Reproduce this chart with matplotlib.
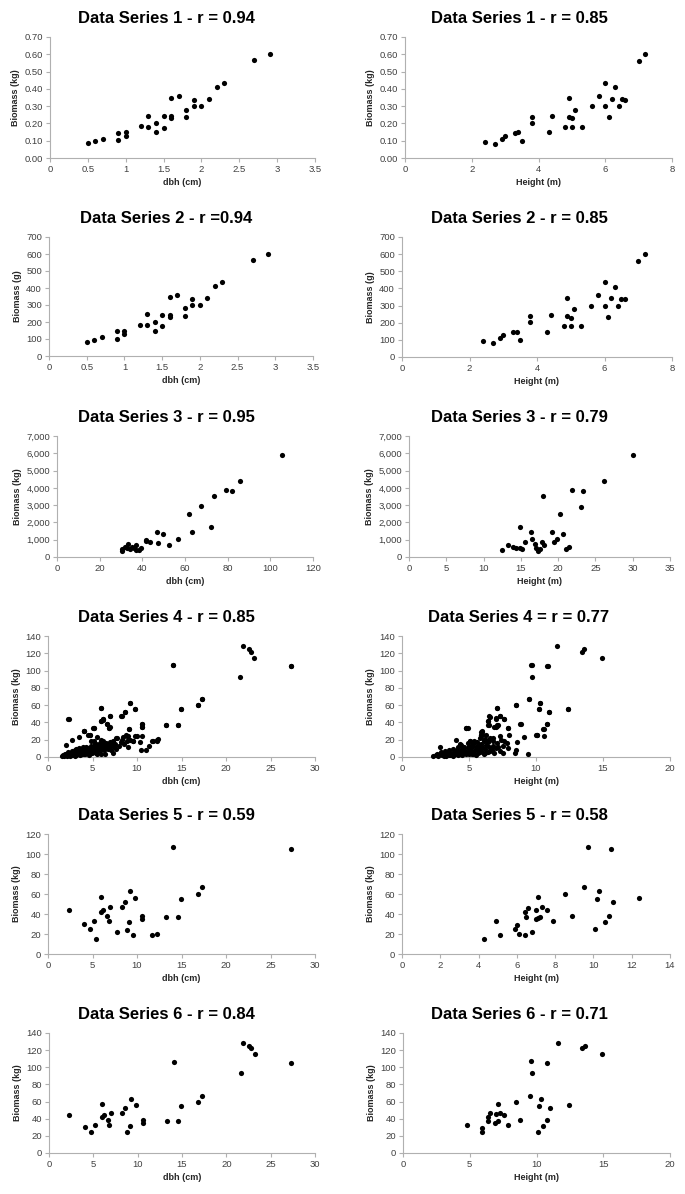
import matplotlib
matplotlib.use('Agg')
import matplotlib.pyplot as plt
from matplotlib.ticker import FuncFormatter, MultipleLocator

plt.rcParams['font.family'] = ['Liberation Sans', 'DejaVu Sans']

# ---- data ----
# Series 1 (kg)
s1_dbh = [0.5, 0.6, 0.7, 0.9, 0.9, 1.0, 1.0, 1.2, 1.3, 1.3, 1.4, 1.4, 1.5, 1.5, 1.6, 1.6,
          1.6, 1.7, 1.8, 1.8, 1.9, 1.9, 2.0, 2.1, 2.2, 2.3, 2.7, 2.9]
s1_dbh_bio = [0.085, 0.097, 0.11, 0.145, 0.105, 0.15, 0.13, 0.185, 0.245, 0.18, 0.205, 0.15,
              0.245, 0.175, 0.345, 0.245, 0.23, 0.36, 0.28, 0.235, 0.335, 0.30, 0.30, 0.34,
              0.41, 0.435, 0.565, 0.60]
s1_ht = [2.4, 2.7, 2.9, 3.0, 3.3, 3.4, 3.5, 3.8, 3.8, 4.3, 4.4, 4.8, 4.9, 4.9, 5.0, 5.0, 5.1,
         5.3, 5.6, 5.8, 6.0, 6.0, 6.1, 6.2, 6.3, 6.4, 6.5, 6.6, 7.0, 7.2]
s1_ht_bio = [0.095, 0.083, 0.11, 0.13, 0.145, 0.15, 0.10, 0.24, 0.20, 0.15, 0.245, 0.18, 0.345,
             0.24, 0.23, 0.18, 0.28, 0.18, 0.30, 0.36, 0.435, 0.30, 0.235, 0.34, 0.41, 0.30,
             0.34, 0.335, 0.56, 0.60]

# Series 2 (g)
s2_dbh = [0.5, 0.6, 0.7, 0.9, 0.9, 1.0, 1.0, 1.2, 1.3, 1.3, 1.4, 1.4, 1.5, 1.5, 1.6, 1.6,
          1.6, 1.7, 1.8, 1.8, 1.9, 1.9, 2.0, 2.1, 2.2, 2.3, 2.7, 2.9]
s2_dbh_bio = [85, 97, 110, 145, 100, 150, 130, 183, 245, 180, 202, 148, 243, 177, 345, 243,
              228, 360, 280, 235, 337, 298, 300, 340, 410, 435, 563, 600]
s2_ht = [2.4, 2.7, 2.9, 3.0, 3.3, 3.4, 3.5, 3.8, 3.8, 4.3, 4.4, 4.8, 4.9, 4.9, 5.0, 5.0, 5.1,
         5.3, 5.6, 5.8, 6.0, 6.0, 6.1, 6.2, 6.3, 6.4, 6.5, 6.6, 7.0, 7.2]
s2_ht_bio = [95, 83, 110, 130, 145, 148, 100, 242, 202, 148, 245, 178, 345, 242, 230, 182,
             280, 180, 300, 360, 435, 300, 235, 342, 410, 300, 340, 338, 562, 600]

# Series 3 (kg)
s3_dbh = [30.5, 30.5, 32, 33, 33.5, 34, 35, 36, 37, 37, 38.5, 39.5, 41.5, 41.5, 43.5, 47,
          47.5, 49.5, 52.5, 56.5, 62, 63.5, 67.5, 72, 73.5, 79, 82, 86, 105.5]
s3_dbh_bio = [350, 480, 600, 500, 750, 480, 550, 500, 700, 380, 430, 500, 1000, 900, 850,
              1450, 830, 1350, 680, 1020, 2480, 1430, 2950, 1720, 3520, 3850, 3800, 4400, 5920]
s3_ht = [12.5, 13.3, 14.0, 14.3, 14.9, 14.9, 15.2, 15.6, 16.3, 16.5, 16.9, 17.0, 17.3, 17.5,
         17.9, 18.0, 18.1, 19.2, 19.5, 19.9, 20.2, 20.7, 21.0, 21.5, 21.9, 23.0, 23.3, 26.2, 30.0]
s3_ht_bio = [380, 700, 550, 520, 1720, 520, 450, 870, 1420, 1020, 750, 500, 350, 450, 850,
             3520, 700, 1470, 850, 1020, 2470, 1350, 480, 600, 3850, 2920, 3800, 4400, 5920]

# Series 6 (kg)
s6_dbh = [2.3, 4.1, 4.7, 5.2, 6.0, 6.0, 6.2, 6.6, 6.8, 7.0, 8.2, 8.6, 8.8, 9.1, 9.2, 9.8,
          10.6, 10.6, 13.3, 14.1, 14.6, 14.9, 16.8, 17.3, 21.6, 21.9, 22.6, 22.8, 23.2, 27.3]
s6_dbh_bio = [44, 30, 25, 33, 57, 42, 44, 38, 33, 47, 47, 52, 25, 32, 63, 56, 38, 35, 37, 106,
              37, 55, 60, 67, 93, 128, 125, 122, 115, 105]
s6_ht = [4.8, 5.9, 5.9, 6.4, 6.4, 6.5, 6.9, 7.0, 7.1, 7.1, 7.3, 7.6, 7.9, 8.5, 8.8, 9.5, 9.6,
         9.7, 10.1, 10.2, 10.3, 10.5, 10.8, 10.8, 11.0, 11.6, 12.4, 13.4, 13.6, 14.9]
s6_ht_bio = [33, 25, 29, 37, 42, 47, 35, 45, 57, 37, 47, 44, 33, 60, 38, 67, 107, 93, 25, 55,
             63, 32, 38, 105, 52, 128, 56, 122, 125, 115]

# Series 5 (kg)
s5_dbh = [2.4, 4.1, 4.7, 5.2, 5.4, 6.0, 6.0, 6.2, 6.6, 6.8, 7.0, 7.7, 8.3, 8.6, 8.9, 9.1,
          9.2, 9.5, 9.8, 10.6, 10.6, 11.7, 12.3, 13.3, 14.1, 14.6, 14.9, 16.8, 17.3, 27.3]
s5_dbh_bio = [44, 30, 25, 33, 15, 57, 42, 44, 38, 33, 47, 22, 47, 52, 24, 32, 63, 19, 56, 38,
              35, 19, 20, 37, 107, 37, 55, 60, 67, 105]
s5_ht = [4.3, 4.9, 5.1, 5.9, 6.0, 6.1, 6.4, 6.4, 6.5, 6.6, 6.8, 7.0, 7.0, 7.1, 7.1, 7.2, 7.3,
         7.6, 7.9, 8.5, 8.9, 9.5, 9.7, 10.1, 10.2, 10.3, 10.6, 10.8, 10.9, 11.0, 12.4]
s5_ht_bio = [15, 33, 19, 25, 29, 20, 19, 42, 37, 46, 22, 44, 35, 57, 36, 37, 47, 44, 33, 60,
             38, 67, 107, 25, 55, 63, 32, 38, 105, 52, 56]

# Series 4 (kg) - the dense cloud of small trees (drawn together with series 5 and 6 points)
s4_dbh = [1.6, 1.7, 1.8, 1.9, 2.0, 2.0, 2.1, 2.2, 2.2, 2.3, 2.4, 2.5, 2.5, 2.6, 2.7, 2.7, 2.8,
          2.9, 3.0, 3.0, 3.1, 3.2, 3.2, 3.3, 3.4, 3.5, 3.5, 3.6, 3.7, 3.8, 3.8, 3.9, 4.0, 4.0,
          4.1, 4.2, 4.3, 4.3, 4.4, 4.5, 4.5, 4.6, 4.7, 4.8, 4.8, 4.9, 5.0, 5.0, 5.1, 5.2, 5.3,
          5.3, 5.4, 5.5, 5.5, 5.6, 5.7, 5.8, 5.8, 5.9, 6.0, 6.1, 6.2, 6.2, 6.3, 6.4, 6.5, 6.5,
          6.6, 6.7, 6.8, 6.9, 7.0, 7.0, 7.1, 7.2, 7.3, 7.3, 7.4, 7.5, 7.6, 7.6, 8.0, 8.2, 8.3,
          8.4, 8.5, 8.9, 9.0, 9.0, 9.2, 9.6, 9.8, 10.0, 10.3, 10.5, 10.6, 11.0, 11.4, 11.8,
          12.2, 12.4, 2.0, 2.7, 3.5, 4.0, 4.5, 5.0, 5.5, 5.2, 6.2, 4.8, 6.0, 7.0, 2.4, 3.0,
          3.6, 4.2, 4.6, 5.4, 5.9, 6.4]
s4_dbh_bio = [1, 2, 1, 3, 2, 4, 1, 3, 6, 2, 4, 1, 5, 3, 7, 2, 4, 6, 3, 8, 5, 2, 9, 4, 6, 3,
              10, 7, 5, 8, 3, 11, 6, 4, 9, 7, 12, 5, 8, 6, 10, 4, 9, 7, 13, 5, 10, 8, 12, 6,
              9, 15, 11, 7, 4, 13, 10, 8, 16, 12, 9, 14, 11, 18, 8, 13, 10, 16, 12, 9, 15, 11,
              17, 13, 8, 14, 18, 5, 11, 15, 22, 9, 13, 17, 20, 23, 15, 18, 12, 24, 20, 19, 24,
              24, 17, 8, 24, 8, 13, 19, 19, 21, 14, 20, 23, 30, 25, 33, 23, 18, 43, 18, 20, 35,
              2, 1, 2, 3, 2, 5, 3, 4]
s4_ht = [2.3, 2.5, 2.6, 2.7, 2.8, 2.8, 2.9, 3.0, 3.0, 3.1, 3.2, 3.3, 3.3, 3.4, 3.5, 3.5, 3.6,
         3.7, 3.8, 3.8, 3.9, 4.0, 4.0, 4.1, 4.2, 4.2, 4.3, 4.4, 4.4, 4.5, 4.6, 4.6, 4.7, 4.8,
         4.8, 4.9, 4.9, 5.0, 5.0, 5.1, 5.1, 5.2, 5.2, 5.3, 5.4, 5.4, 5.5, 5.5, 5.6, 5.6, 5.7,
         5.7, 5.8, 5.8, 5.9, 5.9, 6.0, 6.0, 6.0, 6.1, 6.1, 6.2, 6.2, 6.3, 6.3, 6.4, 6.4, 6.5,
         6.6, 6.7, 6.8, 6.8, 6.9, 7.0, 7.1, 7.2, 7.3, 7.3, 7.4, 7.5, 7.5, 7.6, 7.8, 7.9, 8.0,
         8.4, 8.5, 8.6, 9.1, 9.4, 10.0, 10.6, 3.1, 3.6, 4.1, 4.5, 5.0, 5.3, 5.8, 6.2, 6.6]
s4_ht_bio = [1, 2, 4, 1, 3, 12, 6, 2, 5, 3, 7, 1, 4, 6, 2, 8, 5, 3, 9, 1, 6, 4, 20, 8, 2, 11,
             6, 14, 3, 9, 5, 12, 7, 3, 33, 10, 16, 6, 13, 19, 8, 4, 11, 15, 7, 18, 2, 12, 9,
             17, 5, 14, 10, 22, 7, 15, 12, 25, 30, 4, 18, 9, 21, 14, 26, 6, 17, 11, 22, 8, 13,
             19, 5, 10, 16, 12, 24, 7, 20, 13, 5, 18, 16, 10, 25, 5, 8, 17, 23, 4, 25, 24, 1,
             2, 3, 2, 4, 3, 6, 5, 7]

# ---- panels ----
panels = [
    ('Data Series 1 - r = 0.94', [(s1_dbh, s1_dbh_bio)], 'dbh (cm)', 'Biomass (kg)', 3.5, 0.5, 0.7, 0.1, '{:.2f}'),
    ('Data Series 1 - r = 0.85', [(s1_ht, s1_ht_bio)], 'Height (m)', 'Biomass (kg)', 8, 2, 0.7, 0.1, '{:.2f}'),
    ('Data Series 2 - r =0.94', [(s2_dbh, s2_dbh_bio)], 'dbh (cm)', 'Biomass (g)', 3.5, 0.5, 700, 100, '{:.0f}'),
    ('Data Series 2 - r = 0.85', [(s2_ht, s2_ht_bio)], 'Height (m)', 'Biomass (g)', 8, 2, 700, 100, '{:.0f}'),
    ('Data Series 3 - r = 0.95', [(s3_dbh, s3_dbh_bio)], 'dbh (cm)', 'Biomass (kg)', 120, 20, 7000, 1000, '{:,.0f}'),
    ('Data Series 3 - r = 0.79', [(s3_ht, s3_ht_bio)], 'Height (m)', 'Biomass (kg)', 35, 5, 7000, 1000, '{:,.0f}'),
    ('Data Series 4 - r = 0.85', [(s4_dbh, s4_dbh_bio), (s5_dbh, s5_dbh_bio), (s6_dbh, s6_dbh_bio)],
     'dbh (cm)', 'Biomass (kg)', 30, 5, 140, 20, '{:.0f}'),
    ('Data Series 4 = r = 0.77', [(s4_ht, s4_ht_bio), (s5_ht, s5_ht_bio), (s6_ht, s6_ht_bio)],
     'Height (m)', 'Biomass (kg)', 20, 5, 140, 20, '{:.0f}'),
    ('Data Series 5 - r = 0.59', [(s5_dbh, s5_dbh_bio)], 'dbh (cm)', 'Biomass (kg)', 30, 5, 120, 20, '{:.0f}'),
    ('Data Series 5 - r = 0.58', [(s5_ht, s5_ht_bio)], 'Height (m)', 'Biomass (kg)', 14, 2, 120, 20, '{:.0f}'),
    ('Data Series 6 - r = 0.84', [(s6_dbh, s6_dbh_bio)], 'dbh (cm)', 'Biomass (kg)', 30, 5, 140, 20, '{:.0f}'),
    ('Data Series 6 - r = 0.71', [(s6_ht, s6_ht_bio)], 'Height (m)', 'Biomass (kg)', 20, 5, 140, 20, '{:.0f}'),
]

# plot-area boxes in pixels: left, right, top, bottom
boxes = [
    (50, 315, 37, 158), (405, 672, 37, 158),
    (49, 313, 237, 356), (402, 672, 237, 357),
    (57, 313, 436, 557), (409, 670, 436, 557),
    (48, 315, 636, 757), (402, 670, 636, 757),
    (48, 315, 834, 954), (402, 670, 834, 954),
    (49, 315, 1033, 1153), (403, 670, 1033, 1153),
]
# titles are centred on the chart area (Excel style), not on the plot area
title_x = [166, 519]

W, H = 685, 1194
fig = plt.figure(figsize=(W / 100, H / 100), dpi=100)

for i, ((title, sets, xlab, ylab, xmax, xstep, ymax, ystep, yfmt), (l, r, t, b)) in enumerate(zip(panels, boxes)):
    ax = fig.add_axes([l / W, 1 - b / H, (r - l) / W, (b - t) / H])
    for xs, ys in sets:
        ax.scatter(xs, ys, s=14, color='black', linewidths=0, zorder=3, clip_on=False)
    ax.set_xlim(0, xmax)
    ax.set_ylim(0, ymax)
    ax.xaxis.set_major_locator(MultipleLocator(xstep))
    ax.yaxis.set_major_locator(MultipleLocator(ystep))
    ax.xaxis.set_major_formatter(FuncFormatter(lambda v, p: f'{v:g}'))
    ax.yaxis.set_major_formatter(FuncFormatter(lambda v, p, f=yfmt: f.format(v)))
    for side in ['top', 'right']:
        ax.spines[side].set_visible(False)
    for side in ['left', 'bottom']:
        ax.spines[side].set_color('#b0b0b0')
        ax.spines[side].set_linewidth(0.8)
    ax.tick_params(labelsize=6.8, labelcolor='#404040', color='#b0b0b0', length=3, width=0.8, pad=2)
    ax.set_title(title, fontsize=12, fontweight='bold', pad=10,
                 x=(title_x[i % 2] - l) / (r - l))
    ax.set_xlabel(xlab, fontsize=6.5, fontweight='bold', color='#262626', labelpad=3)
    ax.set_ylabel(ylab, fontsize=6.5, fontweight='bold', color='#262626', labelpad=3)

fig.savefig('out.png', dpi=100)
